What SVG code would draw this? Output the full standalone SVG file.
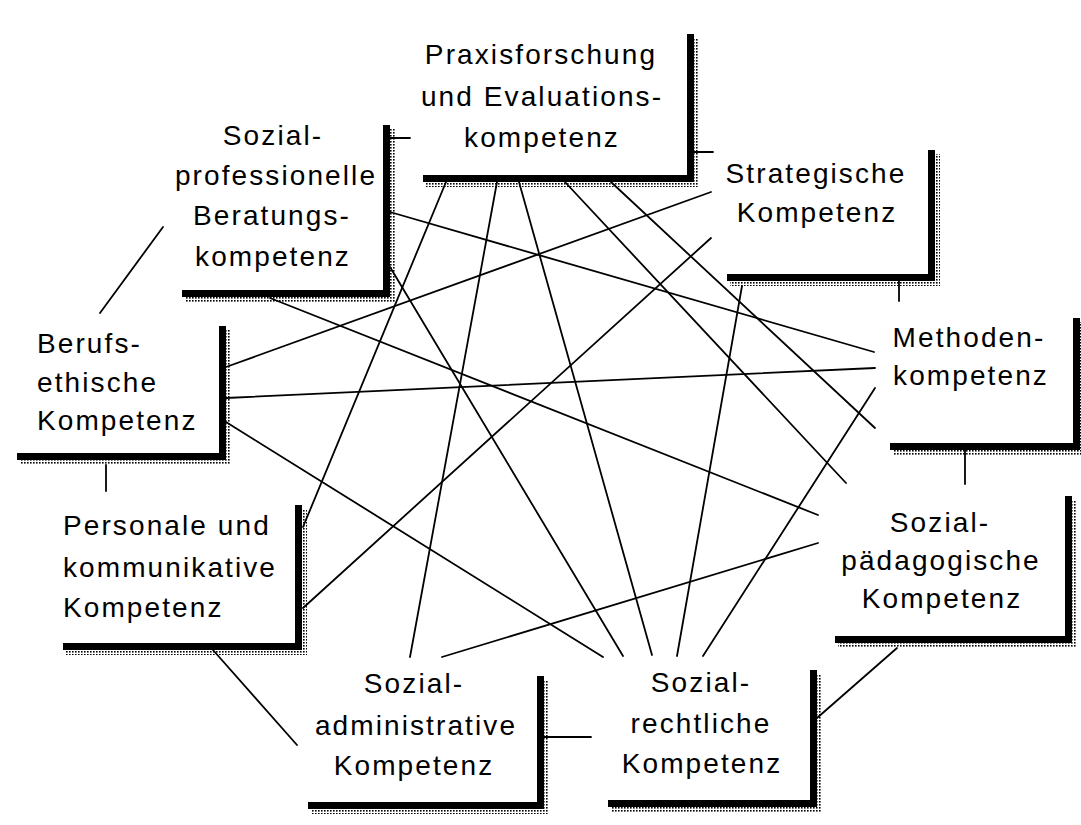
<svg xmlns="http://www.w3.org/2000/svg" width="1081" height="825" viewBox="0 0 1081 825">
<style>
.bg{fill:#fff}
.core{fill:#000}
.fringe{fill:url(#dots)}
.lbl{font-family:"Liberation Sans",Arial,sans-serif;font-size:28px;letter-spacing:2.1px;fill:#000}
.c{text-anchor:middle}
.cn line{stroke:#000;stroke-width:1.8;stroke-linecap:round;fill:none}
</style>
<defs>
<pattern id="dots" width="3" height="3" patternUnits="userSpaceOnUse">
<rect x="0" y="0" width="1.6" height="1.6" fill="#000"/>
</pattern>
</defs>
<rect class="bg" width="1081" height="825"/>
<g id="connectors" class="cn">
<line x1="390" y1="138" x2="410" y2="138"/>
<line x1="694" y1="152" x2="713" y2="152"/>
<line x1="100" y1="313" x2="163" y2="227"/>
<line x1="106" y1="465" x2="106" y2="491"/>
<line x1="213" y1="650" x2="297" y2="745"/>
<line x1="544" y1="737" x2="591" y2="737"/>
<line x1="817" y1="718" x2="897" y2="648"/>
<line x1="965" y1="450" x2="965" y2="484"/>
<line x1="899" y1="281" x2="899" y2="301"/>
<line x1="446" y1="182" x2="303" y2="527"/>
<line x1="497" y1="182" x2="410" y2="657"/>
<line x1="519" y1="182" x2="652" y2="655"/>
<line x1="565" y1="182" x2="846" y2="483"/>
<line x1="611" y1="182" x2="875" y2="428"/>
<line x1="390" y1="212" x2="874" y2="352"/>
<line x1="390" y1="267" x2="623" y2="656"/>
<line x1="270" y1="298" x2="818" y2="515"/>
<line x1="226" y1="367" x2="711" y2="192"/>
<line x1="226" y1="398" x2="875" y2="368"/>
<line x1="226" y1="422" x2="603" y2="657"/>
<line x1="711" y1="238" x2="303" y2="608"/>
<line x1="742" y1="286" x2="677" y2="656"/>
<line x1="875" y1="388" x2="703" y2="656"/>
<line x1="442" y1="657" x2="818" y2="543"/>
</g>
<g id="node-praxis">
<path class="core" d="M687,34 H694 V182 H423 V175 H687Z"/>
<path class="fringe" d="M694,38 H699 V187 H426 V182 H694Z"/>
<text class="lbl c" x="541" y="64">Praxisforschung</text>
<text class="lbl c" x="542" y="106">und Evaluations-</text>
<text class="lbl c" x="542" y="147">kompetenz</text>
</g>
<g id="node-beratung">
<path class="core" d="M383,125 H390 V297 H182 V290 H383Z"/>
<path class="fringe" d="M390,129 H395 V302 H185 V297 H390Z"/>
<text class="lbl c" x="273" y="145">Sozial-</text>
<text class="lbl c" x="276" y="185">professionelle</text>
<text class="lbl c" x="272" y="225">Beratungs-</text>
<text class="lbl c" x="273" y="266">kompetenz</text>
</g>
<g id="node-strategisch">
<path class="core" d="M928,150 H935 V281 H727 V274 H928Z"/>
<path class="fringe" d="M935,154 H940 V286 H730 V281 H935Z"/>
<text class="lbl c" x="816" y="183">Strategische</text>
<text class="lbl c" x="817" y="222">Kompetenz</text>
</g>
<g id="node-berufsethisch">
<path class="core" d="M219,326 H226 V460 H17 V453 H219Z"/>
<path class="fringe" d="M226,330 H231 V465 H20 V460 H226Z"/>
<text class="lbl" x="37" y="353">Berufs-</text>
<text class="lbl" x="37" y="392">ethische</text>
<text class="lbl" x="37" y="430">Kompetenz</text>
</g>
<g id="node-methoden">
<path class="core" d="M1073,318 H1080 V450 H890 V443 H1073Z"/>
<path class="fringe" d="M1080,322 H1081 V455 H893 V450 H1080Z"/>
<text class="lbl c" x="969" y="347">Methoden-</text>
<text class="lbl c" x="971" y="385">kompetenz</text>
</g>
<g id="node-personal">
<path class="core" d="M295,505 H302 V650 H63 V643 H295Z"/>
<path class="fringe" d="M302,509 H307 V655 H66 V650 H302Z"/>
<text class="lbl" x="63" y="535">Personale und</text>
<text class="lbl" x="63" y="577">kommunikative</text>
<text class="lbl" x="63" y="617">Kompetenz</text>
</g>
<g id="node-sozialpaed">
<path class="core" d="M1065,496 H1072 V643 H835 V636 H1065Z"/>
<path class="fringe" d="M1072,500 H1077 V648 H838 V643 H1072Z"/>
<text class="lbl c" x="940" y="532">Sozial-</text>
<text class="lbl c" x="941" y="570">pädagogische</text>
<text class="lbl c" x="942" y="608">Kompetenz</text>
</g>
<g id="node-sozialadmin">
<path class="core" d="M537,676 H544 V809 H308 V802 H537Z"/>
<path class="fringe" d="M544,680 H549 V814 H311 V809 H544Z"/>
<text class="lbl c" x="414" y="693">Sozial-</text>
<text class="lbl c" x="416" y="735">administrative</text>
<text class="lbl c" x="414" y="775">Kompetenz</text>
</g>
<g id="node-sozialrecht">
<path class="core" d="M810,670 H817 V807 H608 V800 H810Z"/>
<path class="fringe" d="M817,674 H822 V812 H611 V807 H817Z"/>
<text class="lbl c" x="701" y="692">Sozial-</text>
<text class="lbl c" x="701" y="733">rechtliche</text>
<text class="lbl c" x="702" y="773">Kompetenz</text>
</g>
</svg>
